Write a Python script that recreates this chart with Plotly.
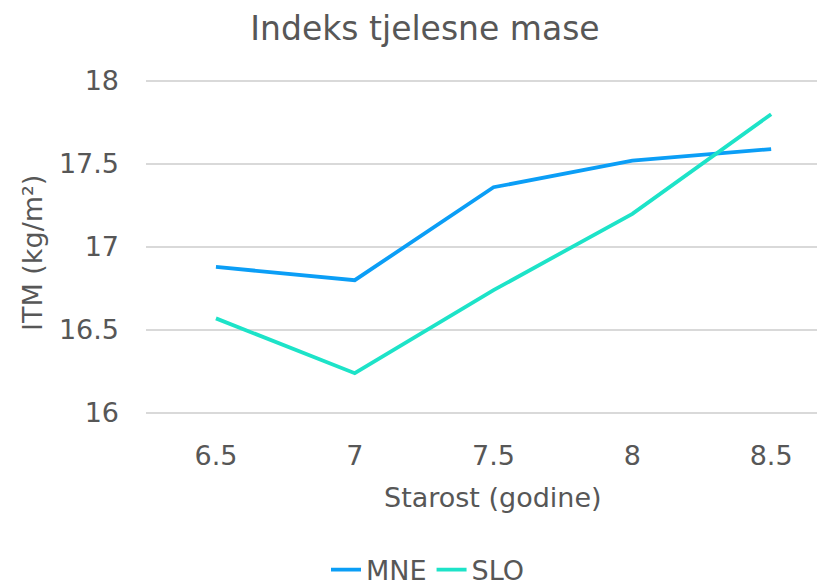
import plotly.graph_objects as go

ages = [6.5, 7, 7.5, 8, 8.5]
mne = [16.88, 16.80, 17.36, 17.52, 17.59]
slo = [16.57, 16.24, 16.74, 17.20, 17.80]
y_ticks = [16, 16.5, 17, 17.5, 18]
y_tick_labels = ["16", "16.5", "17", "17.5", "18"]

FONT = "DejaVu Sans, Liberation Sans, Arial, sans-serif"
GRAY = "#575757"

# the page body adds an 8px offset; figure drawn at 817x579
W, H = 817, 579
PAD = 4  # extra px so the edge gridlines are drawn inside the plot area
L, T, PB = 138, 73 - PAD, 405 + PAD  # plot left, top, bottom (figure px)
pw, ph = W - L, PB - T
upp = 2.0 / 332  # data units per px on y

fig = go.Figure()
fig.add_trace(go.Scatter(x=ages, y=mne, mode="lines", name="MNE",
                         line=dict(color="#0B9EF6", width=3.8)))
fig.add_trace(go.Scatter(x=ages, y=slo, mode="lines", name="SLO",
                         line=dict(color="#1DE3C8", width=3.8)))

fig.update_layout(
    width=W, height=H,
    margin=dict(l=L, r=0, t=T, b=H - PB, autoexpand=False),
    paper_bgcolor="white", plot_bgcolor="white",
    font=dict(family=FONT, color=GRAY, size=27),
    title=dict(text="Indeks tjelesne mase", x=417 / W, xanchor="center",
               y=1 - 20 / H, yanchor="middle", yref="container",
               font=dict(size=33, color=GRAY)),
    showlegend=True,
    legend=dict(orientation="h", x=420 / W, xanchor="center", xref="container",
                y=17 / H, yanchor="middle", yref="container",
                font=dict(size=27, color=GRAY), tracegroupgap=0),
    xaxis=dict(range=[6.248, 8.694], tickvals=ages,
               ticktext=[str(a) for a in ages],
               showgrid=False, zeroline=False, showline=False,
               ticks="", ticklabelstandoff=24 - PAD,
               tickfont=dict(size=27, color=GRAY)),
    yaxis=dict(range=[16 - PAD * upp, 18 + PAD * upp], tickvals=y_ticks,
               ticktext=y_tick_labels,
               showgrid=True, gridcolor="#D9D9D9", gridwidth=1.5,
               zeroline=False, showline=False, ticks="",
               ticklabelstandoff=26,
               tickfont=dict(size=27, color=GRAY)),
    annotations=[
        dict(text="Starost (godine)", x=(485 - L) / pw, y=(PB - 489) / ph,
             xref="paper", yref="paper", xanchor="center", yanchor="middle",
             showarrow=False, font=dict(size=27, color=GRAY)),
        dict(text="ITM (kg/m²)", x=(25 - L) / pw, y=(PB - 245) / ph,
             xref="paper", yref="paper", xanchor="center", yanchor="middle",
             showarrow=False, textangle=-90, font=dict(size=27, color=GRAY)),
    ],
)

fig.write_html("out.html")
